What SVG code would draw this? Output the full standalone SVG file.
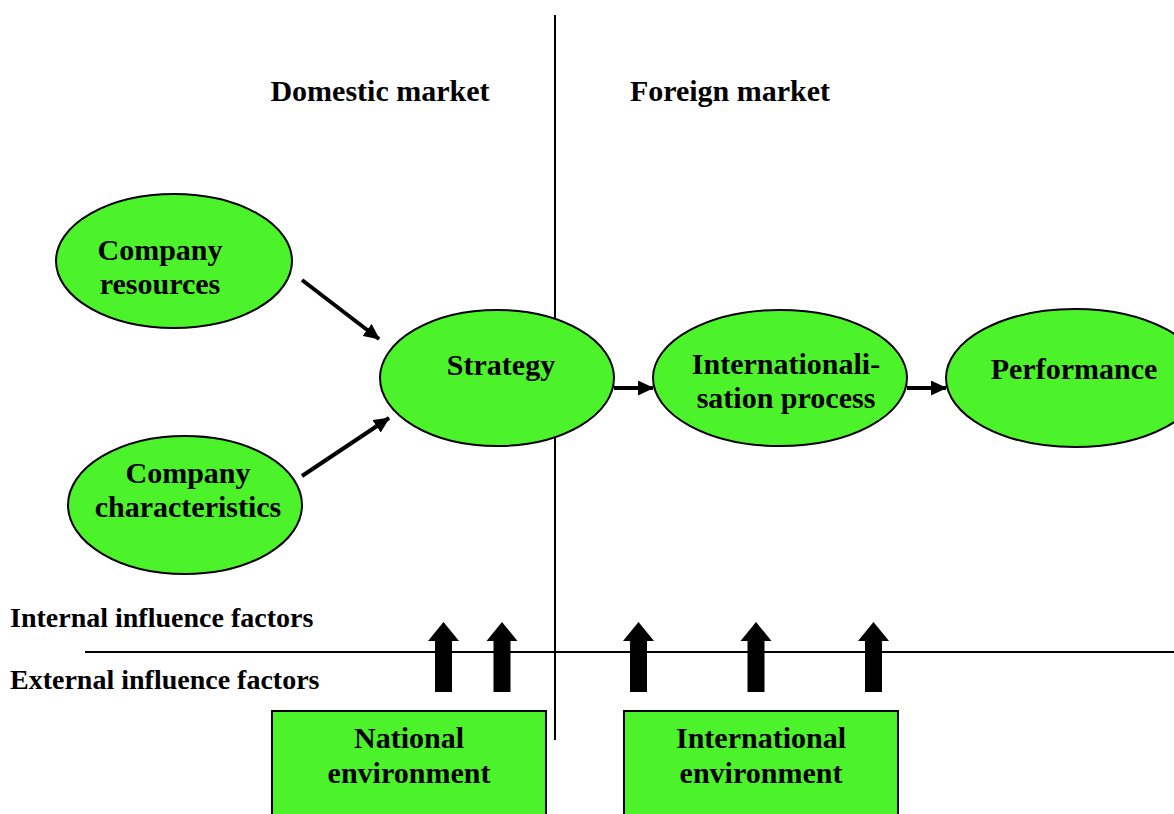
<svg xmlns="http://www.w3.org/2000/svg" width="1174" height="814" viewBox="0 0 1174 814">
<style>
.t{font-family:"Liberation Serif","Times New Roman",serif;font-weight:bold;fill:#000;}
.big{font-size:30px;}
.side{font-size:28px;}
.node{fill:#4CF22A;stroke:#000;stroke-width:2;}
.conn{stroke:#000;stroke-width:4;fill:none;}
.rule{stroke:#000;stroke-width:2;fill:none;}
</style>
<defs>
<marker id="ah" markerUnits="userSpaceOnUse" markerWidth="16" markerHeight="15" refX="15" refY="7.5" orient="auto">
<path d="M0,0 L16,7.5 L0,15 Z" fill="#000"/>
</marker>
<path id="blk" d="M0,0 L15.5,19 L8.5,19 L8.5,70 L-8.5,70 L-8.5,19 L-15.5,19 Z" fill="#000"/>
</defs>
<rect width="1174" height="814" fill="#fff"/>

<g id="dividers">
<line class="rule" x1="555" y1="15" x2="555" y2="740" stroke-width="1.6"/>
<line class="rule" x1="85" y1="652" x2="1174" y2="652"/>
</g>

<g id="headings">
<text class="t big" x="380" y="101" text-anchor="middle">Domestic market</text>
<text class="t big" x="730" y="101" text-anchor="middle">Foreign market</text>
<text class="t side" x="10" y="627">Internal influence factors</text>
<text class="t side" x="10" y="689">External influence factors</text>
</g>

<g id="company-resources">
<ellipse class="node" cx="174" cy="261" rx="118" ry="67"/>
<text class="t big" x="160" y="260" text-anchor="middle">Company</text>
<text class="t big" x="160" y="294" text-anchor="middle">resources</text>
</g>

<g id="company-characteristics">
<ellipse class="node" cx="185" cy="505" rx="117" ry="69"/>
<text class="t big" x="188" y="483" text-anchor="middle">Company</text>
<text class="t big" x="188" y="517" text-anchor="middle">characteristics</text>
</g>

<g id="strategy">
<ellipse class="node" cx="497" cy="378" rx="117" ry="68"/>
<text class="t big" x="501" y="375" text-anchor="middle">Strategy</text>
</g>

<g id="internationalisation">
<ellipse class="node" cx="780" cy="378" rx="127" ry="68"/>
<text class="t big" x="786" y="374" text-anchor="middle">Internationali-</text>
<text class="t big" x="786" y="408" text-anchor="middle">sation process</text>
</g>

<g id="performance">
<ellipse class="node" cx="1075" cy="378" rx="129" ry="69"/>
<text class="t big" x="1074" y="379" text-anchor="middle">Performance</text>
</g>

<g id="national-environment">
<rect class="node" x="272" y="711" width="274" height="110"/>
<text class="t big" x="409" y="748" text-anchor="middle">National</text>
<text class="t big" x="409" y="783" text-anchor="middle">environment</text>
</g>

<g id="international-environment">
<rect class="node" x="624" y="711" width="274" height="110"/>
<text class="t big" x="761" y="748" text-anchor="middle">International</text>
<text class="t big" x="761" y="783" text-anchor="middle">environment</text>
</g>

<g id="connectors">
<line class="conn" x1="302" y1="280" x2="379" y2="339" marker-end="url(#ah)"/>
<line class="conn" x1="302" y1="476" x2="389" y2="418" marker-end="url(#ah)"/>
<line class="conn" x1="614" y1="388" x2="653" y2="388" marker-end="url(#ah)"/>
<line class="conn" x1="907" y1="388" x2="946" y2="388" marker-end="url(#ah)"/>
<use href="#blk" x="443.5" y="622"/>
<use href="#blk" x="502" y="622"/>
<use href="#blk" x="638.5" y="622"/>
<use href="#blk" x="756" y="622"/>
<use href="#blk" x="873.5" y="622"/>
</g>
</svg>
